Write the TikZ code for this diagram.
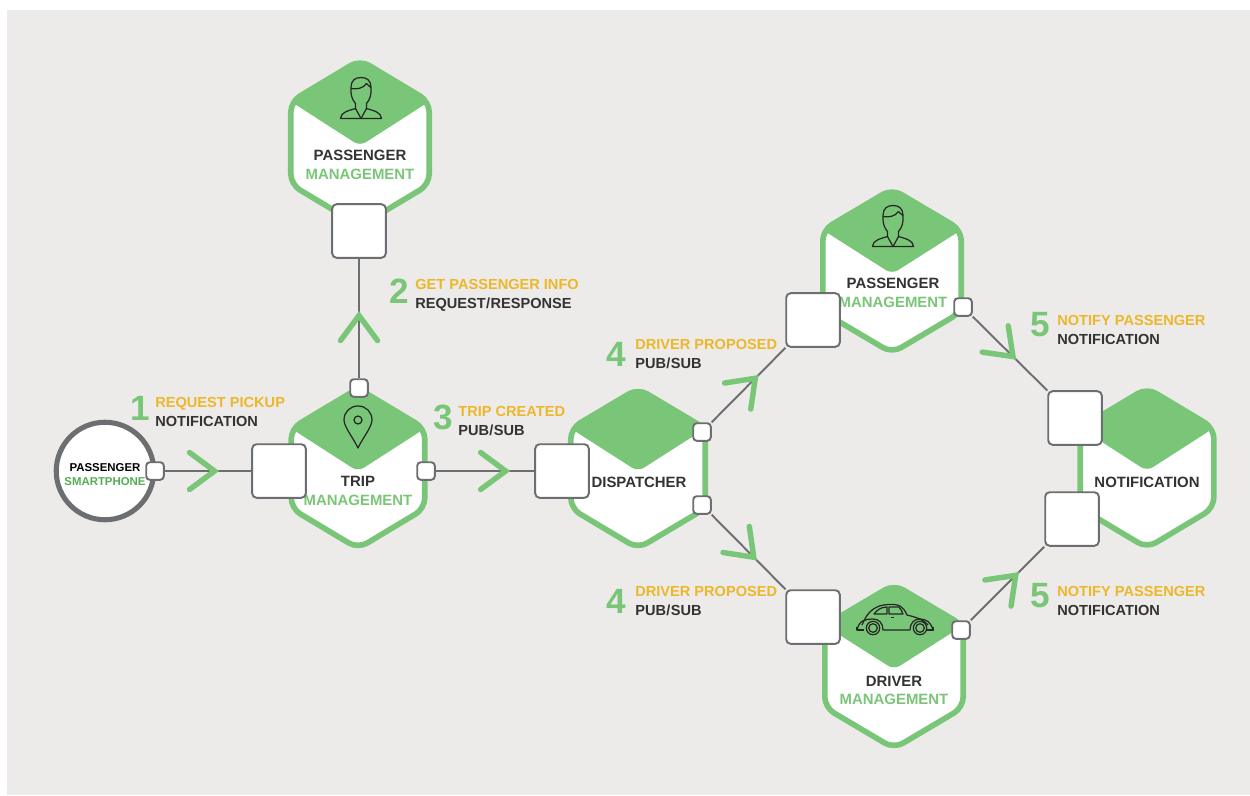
\documentclass[tikz,border=0pt]{standalone}
\usepackage{fontspec}
\setmainfont{Liberation Sans}
\usetikzlibrary{decorations.markings}
\definecolor{panelgray}{HTML}{ECEBE9}
\definecolor{hexgreen}{HTML}{7AC678}
\definecolor{phonegreen}{HTML}{55AD55}
\definecolor{titleyellow}{HTML}{EDB72B}
\definecolor{textdark}{HTML}{333333}
\definecolor{wiregray}{HTML}{6D6E71}
\tikzset{
    hexborder/.style={draw=hexgreen, fill=white, line width=3.2pt, rounded corners=6pt},
    hexcap/.style={fill=hexgreen, rounded corners=4pt},
    svcname/.style={font=\fontsize{8.5pt}{10.6pt}\selectfont\bfseries, text=textdark, align=center, inner sep=0pt},
    bigport/.style={draw=wiregray, fill=white, line width=1.1pt, rounded corners=2.5pt, minimum size=30.5pt, inner sep=0pt},
    smallport/.style={draw=wiregray, fill=white, line width=1.1pt, rounded corners=2pt, minimum size=10pt, inner sep=0pt},
    chevron/.style={draw=hexgreen, line width=3.1pt, line cap=round},
    flow/.style={draw=wiregray, line width=1.1pt, postaction={decorate}, decoration={markings,
        mark=at position #1 with {\draw[chevron] (-28,-18.5) -- (-3,0) -- (-28,18.5);}}},
    stepnum/.style={font=\fontsize{20pt}{20pt}\selectfont\bfseries, text=hexgreen, inner sep=0pt},
    steptext/.style={font=\fontsize{8.3pt}{10.8pt}\selectfont\bfseries, text=textdark, align=left, anchor=west, inner sep=0pt},
    iconline/.style={draw=black!85, line width=0.7pt, line join=round},
    personicon/.pic={
        \draw[iconline] (-20.5,0) .. controls (-20,-6) and (-14,-7.5) .. (-5.5,-10) -- (-5.5,-15)
            .. controls (-7,-17) and (-9.5,-20) .. (-10,-26) -- (-10,-31) .. controls (-10,-38) and (-6,-41) .. (0,-41)
            .. controls (6,-41) and (10,-38) .. (10,-31) -- (10,-26) .. controls (9.5,-20) and (7,-17) .. (5.5,-15)
            -- (5.5,-10) .. controls (14,-7.5) and (20,-6) .. (20.5,0) -- cycle;
        \draw[iconline] (-5.5,-10) -- (0,0) -- (5.5,-10);
        \draw[iconline] (-10,-30) .. controls (-4,-29) and (2,-30) .. (5.5,-35) .. controls (7,-33) and (9,-32) .. (10,-31);
    },
    pinicon/.pic={
        \draw[iconline] (0,28) .. controls (-4,19) and (-14,7) .. (-14,0) .. controls (-14,-8) and (-8,-14) .. (0,-14)
            .. controls (8,-14) and (14,-8) .. (14,0) .. controls (14,7) and (4,19) .. (0,28) -- cycle;
        \draw[iconline] (0,0) circle (4);
    },
    caricon/.pic={
        \draw[iconline] (-33,-3) .. controls (-29,-12) and (-24,-23) .. (-6,-23.5) .. controls (4,-24) and (8,-22) .. (12,-13)
            .. controls (20,-11) and (28,-9) .. (33,-3);
        \draw[iconline] (-38,2) .. controls (-36,-8) and (-29,-9) .. (-22,-9) .. controls (-16,-9) and (-12,-5) .. (-12,2) -- (15,2)
            .. controls (15,-5) and (19,-9) .. (25,-9) .. controls (31,-9) and (36,-6) .. (38,2);
        \draw[iconline] (-38,-1) -- (-38,2) -- (-31,2);
        \draw[iconline] (32,2) -- (38.5,2) -- (38.5,-1);
        \draw[iconline] (-21,-14) .. controls (-18,-18) and (-14,-21) .. (-8,-21) -- (-8,-14) -- cycle;
        \draw[iconline] (-6,-21) -- (4,-21) .. controls (6,-19) and (7,-16) .. (8,-14) -- (-6,-14) -- cycle;
        \draw[iconline] (-4,-10.5) -- (-1,-10.5);
        \foreach \wx in {-22,25} {
            \draw[iconline] (\wx,0) circle (6.7);
            \draw[iconline] (\wx,0) circle (4.3);
        }
    },
}
\begin{document}
\begin{tikzpicture}[x=0.02cm, y=-0.02cm]
    \useasboundingbox (0,0) rectangle (1250,795);
    \fill[white] (0,0) rectangle (1250,795);
    \fill[panelgray] (7,10) rectangle (1250,795);

    % hexagons
    \foreach \cx/\cy/\hw/\hh in {360/143/69.2/83, 358/468.5/66.8/80, 638/468.5/67.2/80, 1147/468/66.8/80, 892/271/69.2/82, 894/666.5/69.2/82} {
        \draw[hexborder] (\cx,{\cy-\hh}) -- ({\cx+\hw},{\cy-\hh/2}) -- ({\cx+\hw},{\cy+\hh/2}) -- (\cx,{\cy+\hh})
            -- ({\cx-\hw},{\cy+\hh/2}) -- ({\cx-\hw},{\cy-\hh/2}) -- cycle;
        \fill[hexcap] (\cx,{\cy-\hh}) -- ({\cx+\hw},{\cy-\hh/2}) -- (\cx,{\cy+3}) -- ({\cx-\hw},{\cy-\hh/2}) -- cycle;
    }
    \pic at (361,118.5) {personicon};
    \pic at (893,246.5) {personicon};
    \pic at (358,420) {pinicon};
    \pic at (895,628) {caricon};

    \node[svcname] (passname) at (360,165) {PASSENGER\\\textcolor{hexgreen}{MANAGEMENT}};
    \node[svcname] (tripname) at (358,491) {TRIP\\\textcolor{hexgreen}{MANAGEMENT}};
    \node[svcname] (dispname) at (639,482) {DISPATCHER};
    \node[svcname] (passname2) at (893,293) {PASSENGER\\\textcolor{hexgreen}{MANAGEMENT}};
    \node[svcname] (drivername) at (894,690.5) {DRIVER\\\textcolor{hexgreen}{MANAGEMENT}};
    \node[svcname] (notifname) at (1147,482) {NOTIFICATION};

    % smartphone
    \node[circle, draw=wiregray, fill=white, line width=2.9pt, minimum size=55.5pt, inner sep=0pt] (phone) at (105,471) {};
    \node[align=center, inner sep=0pt, font=\fontsize{6.5pt}{8pt}\selectfont\bfseries] (phonename) at (105,475) {PASSENGER\\\textcolor{phonegreen}{SMARTPHONE}};

    % ports
    \node[bigport] (passin) at (359,231) {};
    \node[bigport] (tripin) at (279,471) {};
    \node[bigport] (dispin) at (562,471) {};
    \node[bigport] (passin2) at (813,320) {};
    \node[bigport] (driverin) at (813,617) {};
    \node[bigport] (notifin) at (1075,418) {};
    \node[bigport] (notifin2) at (1072,519) {};
    \node[smallport] (phoneout) at (155,471) {};
    \node[smallport] (tripup) at (359,388) {};
    \node[smallport] (tripout) at (426,471) {};
    \node[smallport] (dispup) at (702,432) {};
    \node[smallport] (dispdown) at (702,505) {};
    \node[smallport] (passout) at (963,307) {};
    \node[smallport] (driverout) at (961,630) {};

    % connectors
    \draw[flow=0.61] (phoneout) -- (tripin);
    \draw[flow=0.55] (tripup) -- (passin);
    \draw[flow=0.74] (tripout) -- (dispin);
    \draw[flow=0.62] (dispup) -- (passin2);
    \draw[flow=0.60] (dispdown) -- (driverin);
    \draw[flow=0.57] (passout) -- (notifin);
    \draw[flow=0.64] (driverout) -- (notifin2);

    % step labels
    \foreach \id/\num/\nx/\ny/\lx/\ly/\head/\kind in {
        a/1/140/408/155/411.5/REQUEST PICKUP/NOTIFICATION,
        b/2/399/291/415/295/GET PASSENGER INFO/{REQUEST\kern.2pt/\kern.2pt RESPONSE},
        c/3/443/417/458/421.5/TRIP CREATED/{PUB\kern.2pt/\kern.2pt SUB},
        d/4/616/354/635/354.5/DRIVER PROPOSED/{PUB\kern.2pt/\kern.2pt SUB},
        e/4/616/601/635/601.5/DRIVER PROPOSED/{PUB\kern.2pt/\kern.2pt SUB},
        f/5/1040/325/1057/329.5/NOTIFY PASSENGER/NOTIFICATION,
        g/5/1040/596/1057/600.5/NOTIFY PASSENGER/NOTIFICATION} {
        \node[stepnum] (num\id) at (\nx,\ny) {\num};
        \node[steptext] (text\id) at (\lx,\ly) {\textcolor{titleyellow}{\head}\\\kind};
    }
\end{tikzpicture}
\end{document}
